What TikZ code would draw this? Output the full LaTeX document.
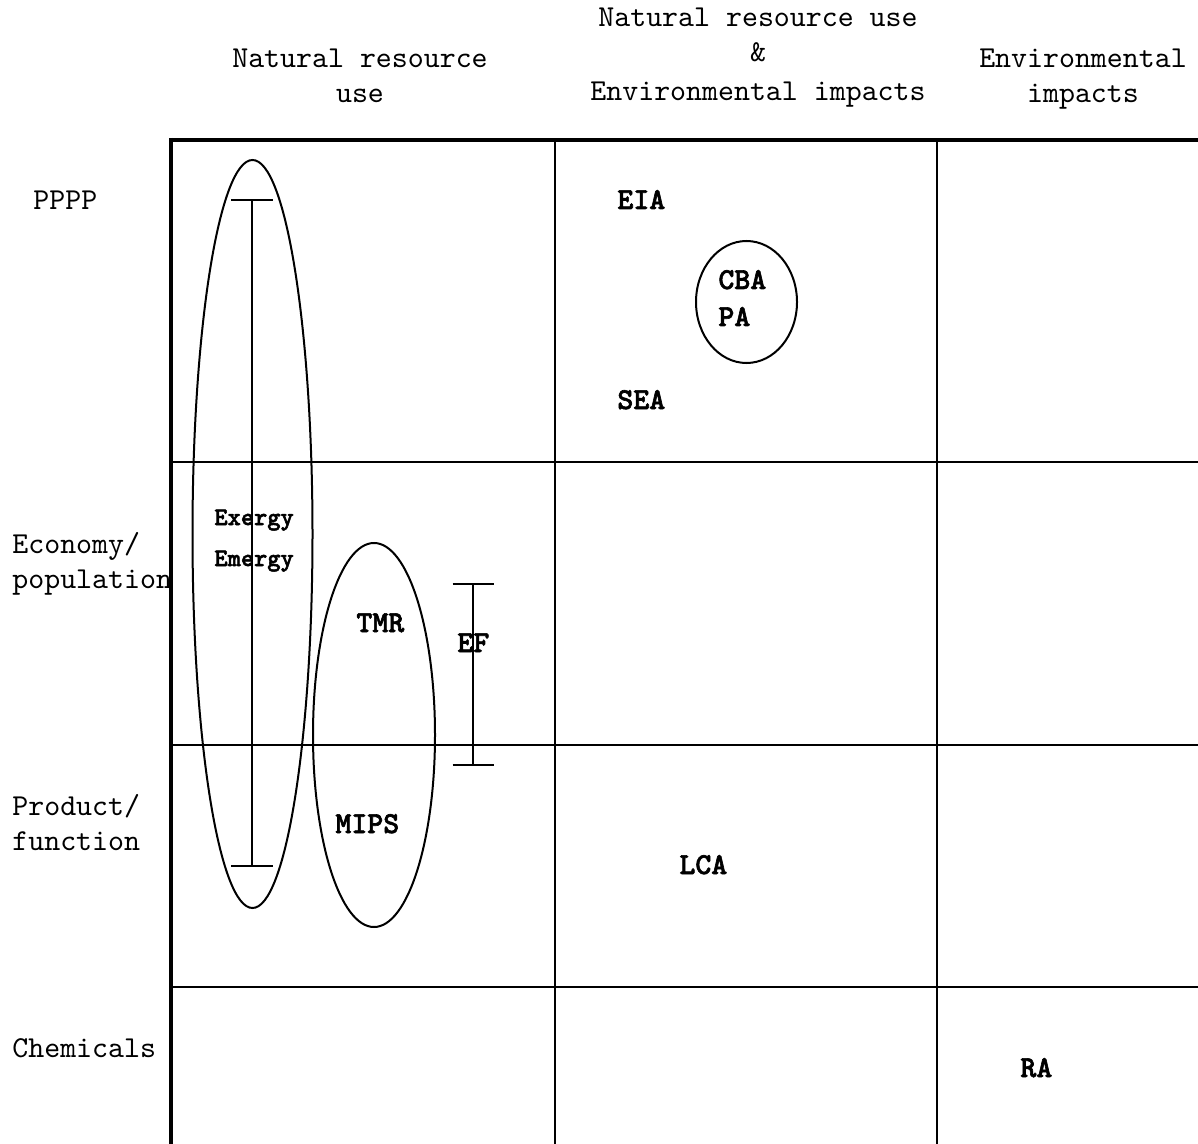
\documentclass[tikz,border=0pt]{standalone}
\usepackage{fontspec}
\setmonofont[BoldFont=lmmonolt10-bold.otf,BoldFeatures={FakeBold=2}]{lmmono10-regular.otf}
\usetikzlibrary{shapes.geometric,calc}
\begin{document}
\begin{tikzpicture}[x=0.5pt,y=-0.5pt,
  hdr/.style={font=\ttfamily\fontsize{15.2}{18}\selectfont, inner sep=0, anchor=base},
  rowlab/.style={font=\ttfamily\fontsize{15.2}{18}\selectfont, inner sep=0, anchor=base west},
  lab/.style={font=\ttfamily\bfseries\fontsize{15.2}{18}\selectfont, inner sep=0, anchor=base west},
  smalllab/.style={font=\ttfamily\bfseries\fontsize{12.6}{15}\selectfont, inner sep=0, anchor=base west},
  oval/.style={draw, ellipse, inner sep=0, line width=1pt},
  gridline/.style={line width=1pt},
  border/.style={line width=2pt},
  bar/.style={line width=1pt}]
\useasboundingbox (0,0) rectangle (1198,1144);

% table
\draw[border] (169,140) -- (1198,140);
\draw[border] (171,138) -- (171,1144);
\draw[gridline] (555,140) -- (555,1144);
\draw[gridline] (937,140) -- (937,1144);
\draw[gridline] (171,462) -- (1198,462);
\draw[gridline] (171,745) -- (1198,745);
\draw[gridline] (171,987) -- (1198,987);

% column headers
\node[hdr] (h1a) at (360,68) {Natural resource};
\node[hdr] (h1b) at (360,103) {use};
\node[hdr] (h2a) at (758,27) {Natural resource use};
\node[hdr] (h2b) at (758,62) {\&};
\node[hdr] (h2c) at (758,101) {Environmental impacts};
\node[hdr] (h3a) at (1083,68) {Environmental};
\node[hdr] (h3b) at (1083,103) {impacts};

% row labels
\node[rowlab] (r1) at (33,210) {PPPP};
\node[rowlab] (r2a) at (12,553) {Economy/};
\node[rowlab] (r2b) at (12,588) {population};
\node[rowlab] (r3a) at (12,815) {Product/};
\node[rowlab] (r3b) at (12,850) {function};
\node[rowlab] (r4) at (12,1057) {Chemicals};

% ellipses
\node[oval, minimum width=60pt, minimum height=374pt] (ell1) at (252.5,534) {};
\node[oval, minimum width=61pt, minimum height=192pt] (ell2) at (374,735) {};
\node[oval, minimum width=50.5pt, minimum height=61pt] (ell3) at (746.5,302) {};

% range bars
\coordinate (b1t) at (252,200);
\coordinate (b1b) at (252,866);
\draw[bar] (b1t) -- (b1b);
\draw[bar] ($(b1t)+(-21,0)$) -- ($(b1t)+(21,0)$);
\draw[bar] ($(b1b)+(-21,0)$) -- ($(b1b)+(21,0)$);
\coordinate (b2t) at (473,584);
\coordinate (b2b) at (473,765);
\draw[bar] (b2t) -- (b2b);
\draw[bar] ($(b2t)+(-20.5,0)$) -- ($(b2t)+(20.5,0)$);
\draw[bar] ($(b2b)+(-20.5,0)$) -- ($(b2b)+(20.5,0)$);

% method labels
\node[lab] (eia) at (617,209) {EIA};
\node[lab] (cba) at (718,289) {CBA};
\node[lab] (pa) at (718,326) {PA};
\node[lab] (sea) at (617,409) {SEA};
\node[smalllab] (exergy) at (214,525) {Exergy};
\node[smalllab] (emergy) at (214,566) {Emergy};
\node[lab] (tmr) at (356,632) {TMR};
\node[lab] (ef) at (457,652) {EF};
\node[lab] (mips) at (335,833) {MIPS};
\node[lab] (lca) at (679,874) {LCA};
\node[lab] (ra) at (1020,1077) {RA};
\end{tikzpicture}
\end{document}
